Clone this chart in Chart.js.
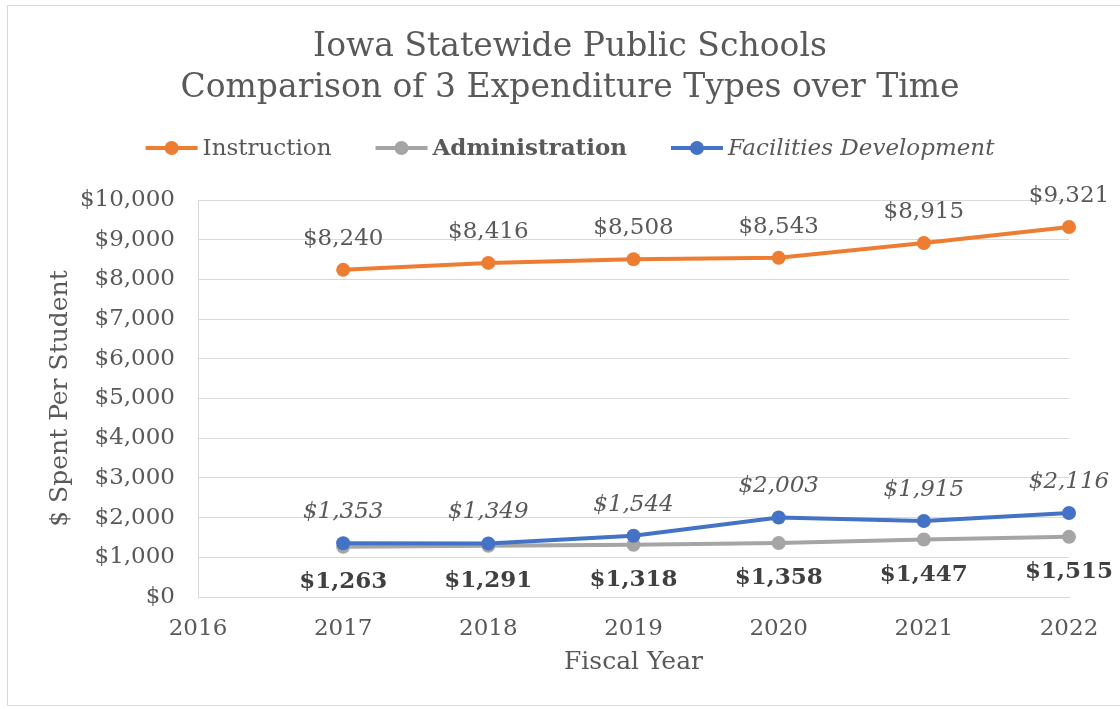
<!DOCTYPE html>
<html>
<head>
<meta charset="utf-8">
<script src="https://cdn.jsdelivr.net/npm/chart.js@4"></script>
<style>
  body { margin: 0; background: #fff; }
  #frame { position: absolute; left: 7px; top: 5px; width: 1200px; height: 699px; border: 1px solid #d9d9d9; }
  #myChart { position: absolute; left: 0; top: 0; }
</style>
</head>
<body>
<div id="frame"></div>
<canvas id="myChart" width="1120" height="709"></canvas>
<script>
let years = ["2016", "2017", "2018", "2019", "2020", "2021", "2022"];
let instruction = [null, 8240, 8416, 8508, 8543, 8915, 9321];
let administration = [null, 1263, 1291, 1318, 1358, 1447, 1515];
let facilities = [null, 1353, 1349, 1544, 2003, 1915, 2116];
let titleLines = ["Iowa Statewide Public Schools", "Comparison of 3 Expenditure Types over Time"];

const FONT = "'DejaVu Serif', 'Liberation Serif', serif";
const money = (v) => "$" + Number(v).toLocaleString("en-US");

// title + legend drawn by hand, legend entries need mixed font styles
const headerPlugin = {
  id: "header",
  afterDraw(chart) {
    const ctx = chart.ctx;
    const cx = 570;
    ctx.save();
    ctx.fillStyle = "#595959";
    ctx.textAlign = "center";
    ctx.textBaseline = "middle";
    ctx.font = "33px " + FONT;
    ctx.fillText(titleLines[0], cx, 47);
    ctx.fillText(titleLines[1], cx, 88);

    const items = chart.data.datasets.slice().sort((a, b) => a.legendPos - b.legendPos);
    const lineLen = 52, gap = 5, between = 44;
    let total = 0;
    items.forEach((ds, i) => {
      ctx.font = ds.labelFont + " 23px " + FONT;
      ds._w = ctx.measureText(ds.label).width;
      total += lineLen + gap + ds._w + (i < items.length - 1 ? between : 0);
    });
    let x = cx - total / 2;
    const y = 148;
    items.forEach((ds) => {
      ctx.strokeStyle = ds.borderColor;
      ctx.lineWidth = 4;
      ctx.beginPath();
      ctx.moveTo(x, y);
      ctx.lineTo(x + lineLen, y);
      ctx.stroke();
      ctx.fillStyle = ds.borderColor;
      ctx.beginPath();
      ctx.arc(x + lineLen / 2, y, 7, 0, Math.PI * 2);
      ctx.fill();
      ctx.font = ds.labelFont + " 23px " + FONT;
      ctx.fillStyle = "#595959";
      ctx.textAlign = "left";
      ctx.fillText(ds.label, x + lineLen + gap, y + 1);
      x += lineLen + gap + ds._w + between;
    });
    ctx.restore();
  },
  afterDatasetsDraw(chart) {
    const ctx = chart.ctx;
    ctx.save();
    ctx.textAlign = "center";
    ctx.textBaseline = "middle";
    chart.data.datasets.forEach((ds, i) => {
      const meta = chart.getDatasetMeta(i);
      ctx.font = ds.labelFont + " 23px " + FONT;
      ctx.fillStyle = ds.labelFont == "bold" ? "#404040" : "#595959";
      meta.data.forEach((pt, j) => {
        const v = ds.data[j];
        if (v == null) return;
        ctx.fillText(money(v), pt.x, pt.y + ds.labelOffset);
      });
    });
    ctx.restore();
  },
};

var ctx = document.getElementById("myChart");

var myChart = new Chart(ctx, {
  type: "line",
  data: {
    labels: years,
    datasets: [
      {
        label: "Instruction",
        data: instruction,
        borderColor: "#ED7D31",
        backgroundColor: "#ED7D31",
        labelFont: "normal",
        labelOffset: -31,
        legendPos: 0,
        order: 0,
      },
      {
        label: "Facilities Development",
        data: facilities,
        borderColor: "#4472C4",
        backgroundColor: "#4472C4",
        labelFont: "italic",
        labelOffset: -31,
        legendPos: 2,
        order: 1,
      },
      {
        label: "Administration",
        data: administration,
        borderColor: "#A5A5A5",
        backgroundColor: "#A5A5A5",
        labelFont: "bold",
        labelOffset: 35,
        legendPos: 1,
        order: 2,
      },
    ],
  },
  options: {
    responsive: false,
    animation: false,
    elements: {
      line: { borderWidth: 4, tension: 0 },
      point: { radius: 7, hoverRadius: 7, borderWidth: 0 },
    },
    layout: { padding: { top: 200, right: 51, left: 0, bottom: 0 } },
    plugins: {
      legend: { display: false },
      tooltip: { enabled: false },
    },
    scales: {
      x: {
        offset: false,
        grid: { display: false },
        border: { color: "#d9d9d9" },
        ticks: { color: "#595959", font: { family: FONT, size: 23 }, padding: 10 },
        title: {
          display: true,
          text: "Fiscal Year",
          color: "#595959",
          font: { family: FONT, size: 25 },
          padding: { top: 0, bottom: 32 },
        },
        afterFit: (scale) => { scale.height = 112; },
      },
      y: {
        min: 0,
        max: 10000,
        grid: { color: "#d9d9d9", drawTicks: false },
        border: { color: "#d9d9d9" },
        ticks: {
          stepSize: 1000,
          color: "#595959",
          font: { family: FONT, size: 23 },
          padding: 23,
          callback: (v) => money(v),
        },
        title: {
          display: true,
          text: "$ Spent Per Student",
          color: "#595959",
          font: { family: FONT, size: 25 },
          padding: { top: 45, bottom: 0 },
        },
        afterFit: (scale) => { scale.width = 198; },
      },
    },
  },
  plugins: [headerPlugin],
});
</script>
</body>
</html>
